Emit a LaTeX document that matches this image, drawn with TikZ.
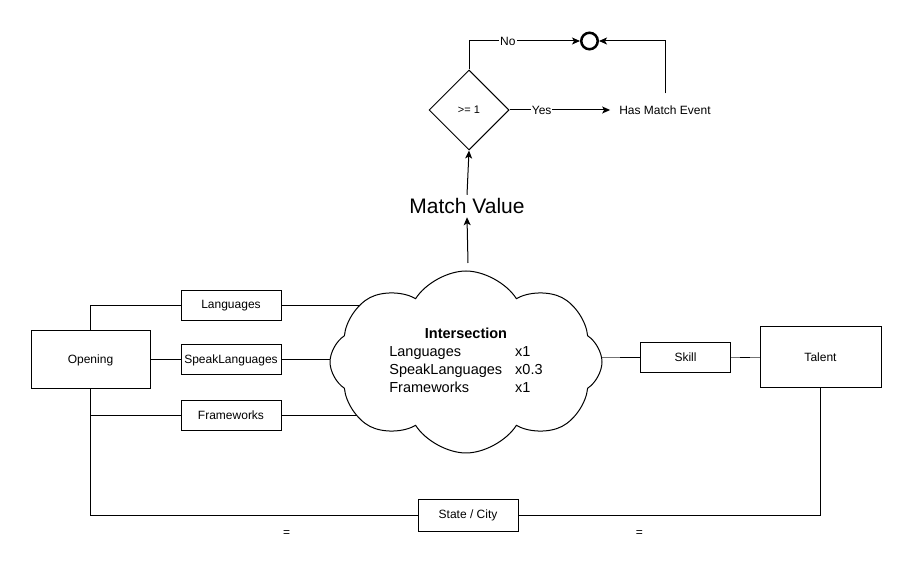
\documentclass[tikz,border=0pt]{standalone}
\usepackage{fontspec}
\setmainfont{Liberation Sans}
\usetikzlibrary{shapes.geometric,shapes.symbols,arrows.meta,backgrounds,calc}

\tikzset{
  entity/.style={draw, rectangle, fill=white, line width=1pt,
    minimum width=100pt, minimum height=30pt, inner sep=0pt,
    font=\fontsize{12}{14}\selectfont},
  tablebox/.style={entity, minimum width=120pt, minimum height=60pt},
  link/.style={line width=1pt},
  softlink/.style={link, draw=black!55},
  flow/.style={link, -{Stealth[length=8pt,width=7pt,inset=2pt]}},
  tag/.style={fill=white, inner sep=1pt, font=\fontsize{12}{14}\selectfont},
  equal/.style={font=\fontsize{12}{14}\selectfont, below=12pt},
}

\begin{document}
\begin{tikzpicture}[x=1pt,y=-1pt]
  \useasboundingbox (0,0) rectangle (911,569);

  % tables and their attributes
  \node[tablebox, minimum width=119pt, minimum height=58pt]
    (opening) at (90.5,360) {Opening};
  \node[tablebox, minimum width=121pt, minimum height=61pt]
    (talent) at (820.5,357.5) {Talent};
  \node[entity] (lang) at (231,306) {Languages};
  \node[entity] (speak) at (231,360) {SpeakLanguages};
  \node[entity] (frame) at (231,415.5) {Frameworks};
  \node[entity, minimum width=90pt] (skill) at (685.5,357.5) {Skill};
  \node[entity, minimum width=100pt, minimum height=32pt]
    (state) at (468,515) {State / City};

  % intersection cloud
  \node[draw, cloud, fill=white, line width=1pt, cloud puffs=8,
        cloud puff arc=115, aspect=1.5, inner sep=0pt,
        minimum width=272pt, minimum height=182pt]
    (inter) at (466,362)
    {\fontsize{14.5}{18}\selectfont
     \begin{tabular}{@{}l@{\hspace{13pt}}l@{}}
       \multicolumn{2}{c}{\bfseries Intersection}\\
       Languages & x1\\
       SpeakLanguages & x0.3\\
       Frameworks & x1
     \end{tabular}};

  % match flow
  \coordinate (cloudtop) at (468,263);
  \node[font=\fontsize{21}{25}\selectfont] (value) at (467,206) {Match Value};
  \node[draw, diamond, line width=1pt, minimum width=80pt,
        minimum height=80pt, inner sep=0pt,
        font=\fontsize{11}{13}\selectfont]
    (check) at (469,110) {>= 1};
  \node[font=\fontsize{12}{14}\selectfont, inner xsep=9pt, inner ysep=12pt]
    (event) at (665,110) {Has Match Event};
  \node[draw, circle, line width=2.5pt, minimum size=16.5pt, inner sep=0pt]
    (stop) at (589.5,41) {};

  \draw[flow] (cloudtop) -- (value.south);
  \draw[flow] (value.north) -- (check.south);
  \draw[flow] (check.east) -- node[tag, pos=0.32] {Yes} (event.west);
  \draw[flow] (check.north) |- node[tag, pos=0.675] {No} (stop.west);
  \draw[flow] (event.north) |- (stop.east);

  % relations, behind the shapes
  \begin{scope}[on background layer]
    \draw[link] (opening.north) |- (lang.west);
    \draw[link] (opening.east) -- (speak.west);
    \draw[link] (opening.south) |- (frame.west);
    \draw[link] (opening.south) |- node[pos=0.8, equal] {=} (state.west);
    \draw[link] (talent.south) |- node[pos=0.8, equal] {=} (state.east);
    \draw[link] (lang.east) -- (lang.east -| inter.center);
    \draw[link] (speak.east) -- (speak.east -| inter.center);
    \draw[link] (frame.east) -- (frame.east -| inter.center);
    \draw[softlink] (skill.west) -- (skill.west -| inter.center);
    \draw[softlink] (skill.east) -- (talent.west);
  \end{scope}
  \draw[link] ($(skill.west)+(-20,0)$) -- (skill.west);
  \draw[link] ($(skill.east)+(9,0)$) -- ++(10,0);
\end{tikzpicture}
\end{document}
